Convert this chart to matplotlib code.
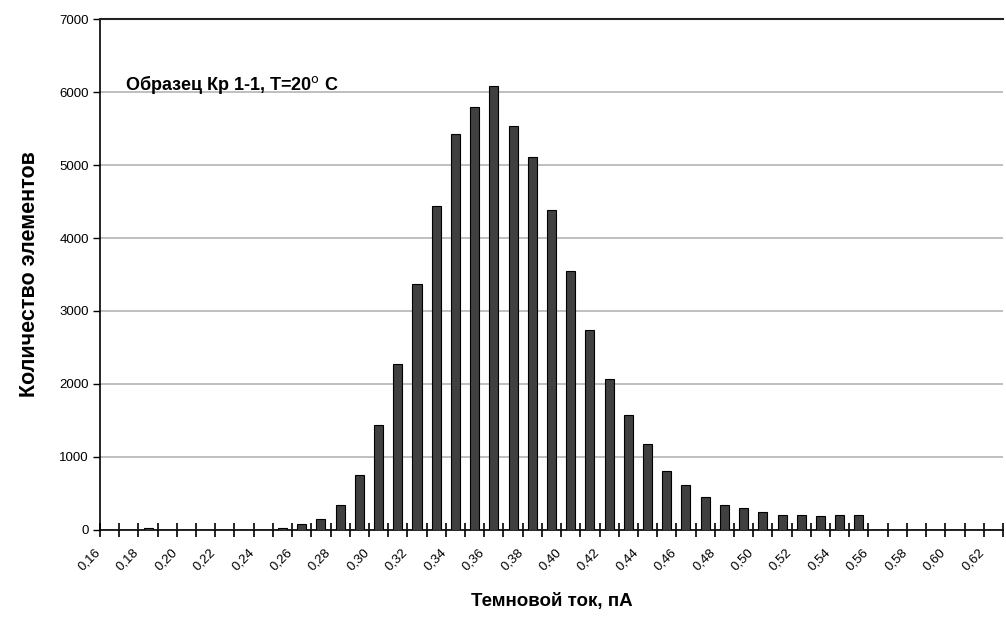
import matplotlib
matplotlib.use('Agg')
import matplotlib.pyplot as plt
import matplotlib.transforms as mtransforms
import numpy as np

# Данные гистограммы (темновой ток, пА -> количество элементов)
tok = [0.16, 0.17, 0.18, 0.19, 0.20, 0.21, 0.22, 0.23, 0.24, 0.25,
       0.26, 0.27, 0.28, 0.29, 0.30, 0.31, 0.32, 0.33, 0.34, 0.35,
       0.36, 0.37, 0.38, 0.39, 0.40, 0.41, 0.42, 0.43, 0.44, 0.45,
       0.46, 0.47, 0.48, 0.49, 0.50, 0.51, 0.52, 0.53, 0.54, 0.55,
       0.56, 0.57, 0.58, 0.59, 0.60, 0.61, 0.62]
kolvo = [0, 0, 25, 0, 0, 0, 0, 0, 0, 25,
         75, 150, 340, 750, 1440, 2270, 3370, 4440, 5420, 5800,
         6080, 5540, 5110, 4380, 3550, 2740, 2070, 1575, 1175, 810,
         610, 450, 340, 295, 250, 210, 210, 185, 210, 210,
         0, 0, 0, 0, 0, 0, 0]
y_ticks = [0, 1000, 2000, 3000, 4000, 5000, 6000, 7000]

plt.rcParams['font.family'] = ['Liberation Sans', 'DejaVu Sans']

fig = plt.figure(figsize=(10.06, 6.26), dpi=100)
ax = fig.add_axes([0.0994, 0.1534, 0.8976, 0.8162])

x = np.arange(len(tok))
ax.bar(x, kolvo, width=0.47, color='#404040', edgecolor='black', linewidth=0.8, zorder=3)

ax.set_xlim(-0.5, len(tok) - 0.5)
ax.set_ylim(0, 7000)

# сетка по оси Y
ax.set_yticks(y_ticks)
ax.set_yticklabels([str(v) for v in y_ticks], fontsize=9.5)
ax.yaxis.grid(True, color='#b4b4b4', linewidth=1.2, zorder=0)
ax.tick_params(axis='y', direction='out', length=5, width=1, pad=3)

# деления на границах категорий, подписи через одну
ax.set_xticks(np.arange(len(tok) + 1) - 0.5)
ax.set_xticklabels([])
ax.tick_params(axis='x', which='major', direction='inout', length=10, width=1.2)
ax.set_xticks(x[::2], minor=True)
ax.set_xticklabels([('%.2f' % t).replace('.', ',') for t in tok[::2]],
                   minor=True, rotation=45, ha='right', va='top', fontsize=9.5)
ax.tick_params(axis='x', which='minor', length=0, pad=12)
shift = mtransforms.ScaledTranslation(-7 / 100, 0, fig.dpi_scale_trans)
for lbl in ax.get_xticklabels(minor=True):
    lbl.set_transform(lbl.get_transform() + shift)

ax.spines['right'].set_visible(False)
ax.spines['top'].set_color('#222222')
ax.spines['top'].set_linewidth(1.5)
ax.spines['left'].set_linewidth(1.2)
ax.spines['bottom'].set_linewidth(1.2)

ax.set_ylabel('Количество элементов', fontsize=15.5, fontweight='bold', labelpad=14)
ax.set_xlabel('Темновой ток, пА', fontsize=13.5, fontweight='bold', labelpad=14)

ax.text(0.028, 0.872, 'Образец Кр 1-1, T=20$^{\\mathrm{o}}$ C', transform=ax.transAxes,
        fontsize=13, fontweight='bold', va='center', ha='left')

fig.savefig('out.png', dpi=100)
